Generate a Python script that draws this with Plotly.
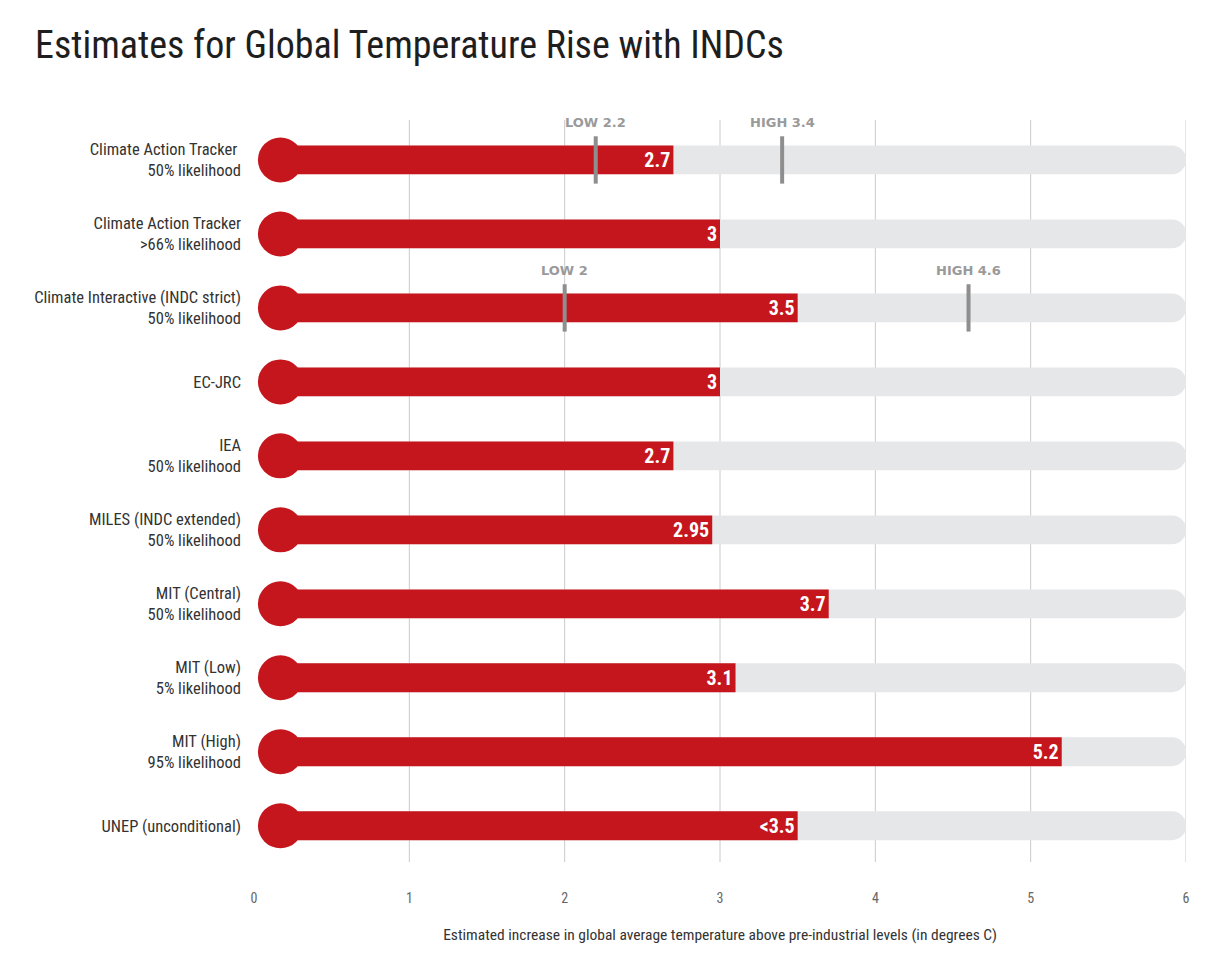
import plotly.graph_objects as go

# ---- data ----
labels = [
    "Climate Action Tracker <br>50% likelihood",
    "Climate Action Tracker<br>>66% likelihood",
    "Climate Interactive (INDC strict)<br>50% likelihood",
    "EC-JRC",
    "IEA<br>50% likelihood",
    "MILES (INDC extended)<br>50% likelihood",
    "MIT (Central)<br>50% likelihood",
    "MIT (Low)<br>5% likelihood",
    "MIT (High)<br>95% likelihood",
    "UNEP (unconditional)",
]
values = [2.7, 3.0, 3.5, 3.0, 2.7, 2.95, 3.7, 3.1, 5.2, 3.5]
value_text = ["2.7", "3", "3.5", "3", "2.7", "2.95", "3.7", "3.1", "5.2", "<3.5"]

# low / high ranges: (row index, value, label)
range_marks = [
    (0, 2.2, "LOW 2.2"),
    (0, 3.4, "HIGH 3.4"),
    (2, 2.0, "LOW 2"),
    (2, 4.6, "HIGH 4.6"),
]

x_ticks = [0, 1, 2, 3, 4, 5, 6]
grid_values = [1, 2, 3, 4, 5, 6]
x_max = 6

# ---- style ----
RED = "#C5161D"
GREY_BAR = "#E6E7E9"
MARK = "#8E8E8E"
BULB_X = 0.17
FONT = "Roboto Condensed, Liberation Sans Narrow, DejaVu Sans Condensed, Arial Narrow, Roboto, sans-serif"

rows = list(range(len(labels)))

fig = go.Figure()

# background track
fig.add_trace(go.Bar(
    y=rows, x=[x_max - BULB_X] * len(rows), base=[BULB_X] * len(rows),
    orientation="h", width=0.39, marker=dict(color=GREY_BAR, cornerradius=14, line_width=0),
    hoverinfo="skip", showlegend=False,
))

# red value bars
fig.add_trace(go.Bar(
    y=rows, x=[v - BULB_X for v in values], base=[BULB_X] * len(rows),
    orientation="h", width=0.39, marker=dict(color=RED, line_width=0),
    text=value_text, textposition="inside", insidetextanchor="end",
    textfont=dict(color="white", size=20, family=FONT, weight="bold"),
    textangle=0, constraintext="none",
    showlegend=False,
))

# bulbs
fig.add_trace(go.Scatter(
    y=rows, x=[BULB_X] * len(rows), mode="markers",
    marker=dict(color=RED, size=45, line_width=0), hoverinfo="skip", showlegend=False,
))

# low/high tick marks
for r, v, t in range_marks:
    fig.add_trace(go.Scatter(
        x=[v, v], y=[r - 0.32, r + 0.32], mode="lines",
        line=dict(color=MARK, width=4), hoverinfo="skip", showlegend=False,
    ))
    fig.add_annotation(
        x=v, y=r - 0.5, text=t, showarrow=False, xanchor="center", yanchor="middle",
        font=dict(color="#9A9A9A", size=13, family="DejaVu Sans", weight="bold"),
    )

# gridlines
for g in grid_values:
    fig.add_shape(type="line", xref="x", yref="paper", x0=g, x1=g, y0=0, y1=1,
                  line=dict(color="#CACACA", width=1), layer="below")

fig.update_layout(
    width=1214, height=961,
    margin=dict(l=246, r=36, t=112, b=107),
    paper_bgcolor="white", plot_bgcolor="white",
    barmode="overlay",
    title=dict(text="Estimates for Global Temperature Rise with INDCs",
               x=27 / 1214, xanchor="left", y=1 - 37 / 961, yanchor="middle",
               font=dict(size=38, color="#1E1E1E", family=FONT)),
    xaxis=dict(range=[0, x_max], tickvals=x_ticks, ticktext=[str(t) for t in x_ticks],
               showgrid=False, zeroline=False, showline=False, ticks="",
               ticklabelstandoff=26,
               tickfont=dict(size=14, color="#666666", family=FONT),
               title=dict(text="Estimated increase in global average temperature above pre-industrial levels (in degrees C)",
                          font=dict(size=15.5, color="#333333", family=FONT), standoff=24)),
    yaxis=dict(range=[9.49, -0.54], tickvals=rows, ticktext=labels,
               showgrid=False, zeroline=False, showline=False, ticks="",
               ticklabelstandoff=12,
               tickfont=dict(size=16.5, color="#333333", family=FONT)),
    font=dict(family=FONT),
)

fig.write_html("out.html")
